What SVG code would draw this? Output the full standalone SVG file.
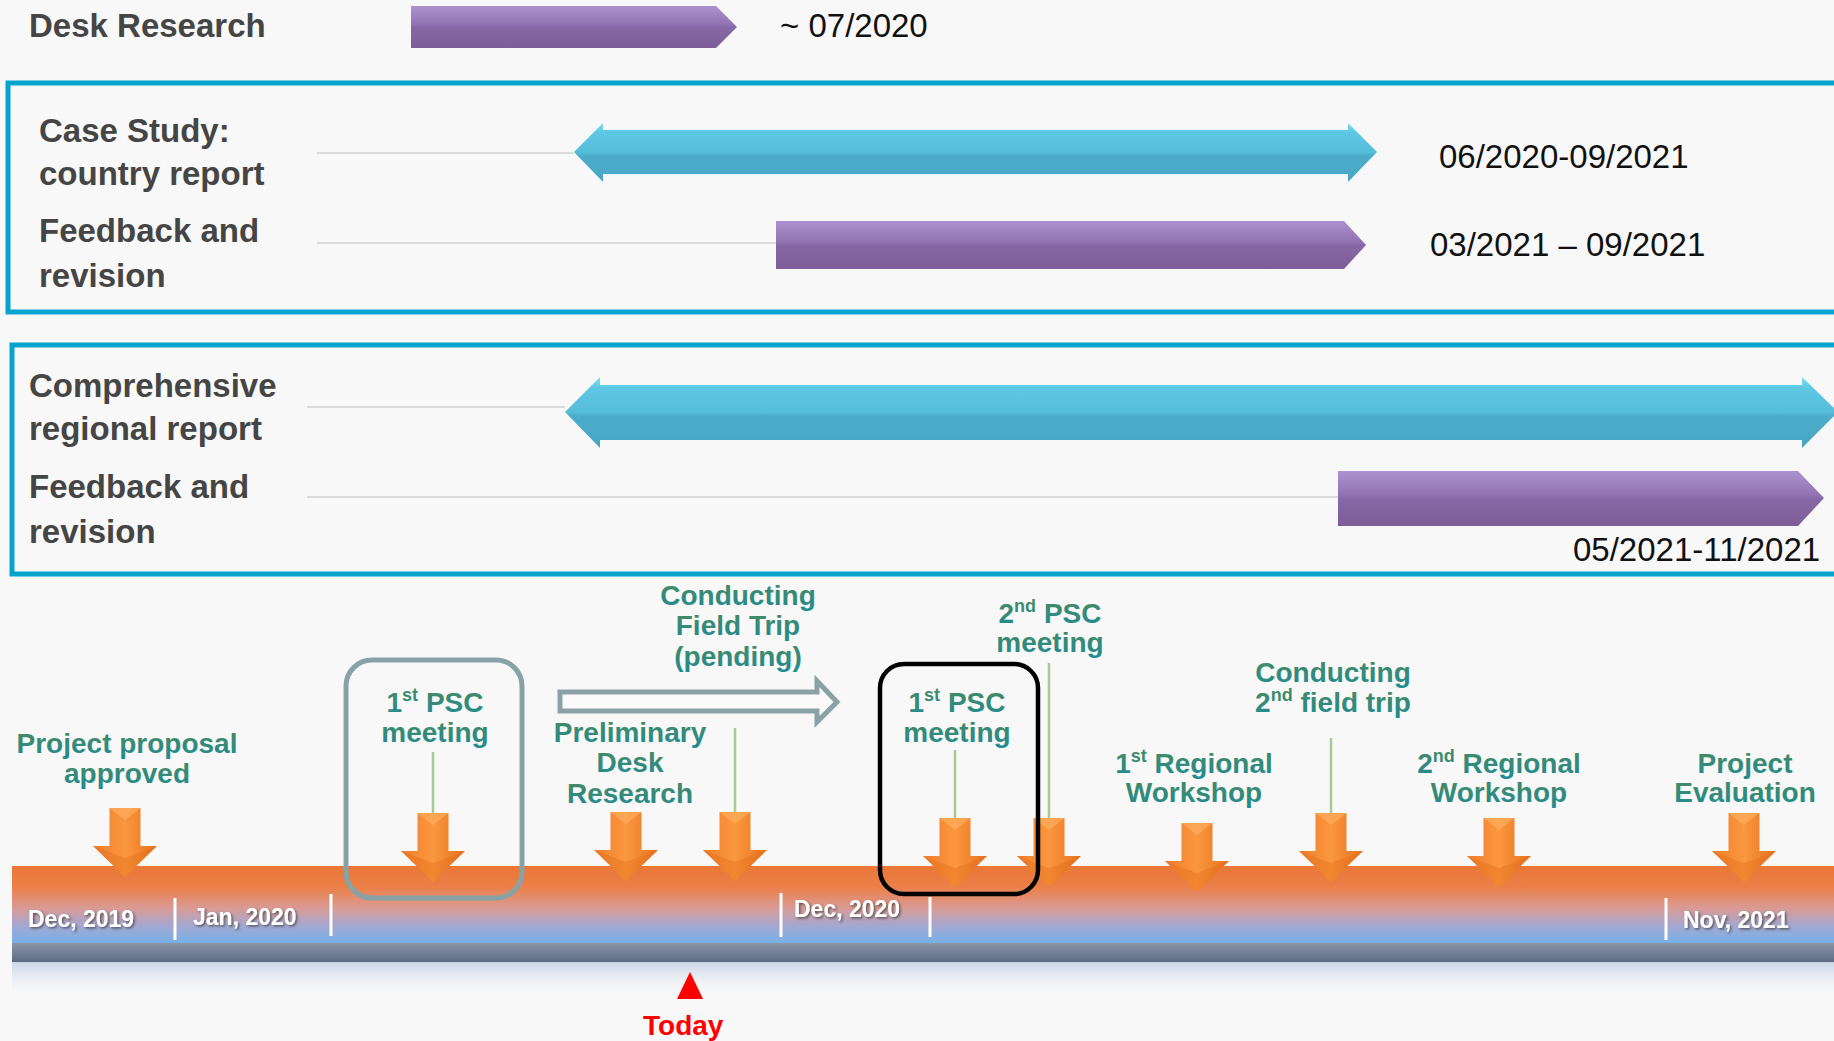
<svg xmlns="http://www.w3.org/2000/svg" width="1834" height="1041" viewBox="0 0 1834 1041">
<defs>
<style>
.lbl{font-family:"Liberation Sans",Arial,sans-serif;font-weight:700;font-size:33px;fill:#454545}
.dt{font-family:"Liberation Sans",Arial,sans-serif;font-size:33px;fill:#111}
.gl{font-family:"Liberation Sans",Arial,sans-serif;font-weight:700;font-size:28px;fill:url(#gtext);text-anchor:middle}
.tk{font-family:"Liberation Sans",Arial,sans-serif;font-weight:700;font-size:23px;fill:#fff;filter:url(#sh)}
.box{fill:none;stroke:#06a3cf;stroke-width:5}
.guide{stroke:#d2d2d2;stroke-width:1.5}
.lead{stroke:#a9c995;stroke-width:2.5}
.tick{stroke:#fff;stroke-width:3}
</style>
<linearGradient id="gtext" x1="0" y1="0" x2="0" y2="1"><stop offset="0" stop-color="#4a8a5c"/><stop offset="1" stop-color="#1f8b95"/></linearGradient>
<linearGradient id="cyan" x1="0" y1="0" x2="0" y2="1"><stop offset="0" stop-color="#7ee0f4"/><stop offset="0.15" stop-color="#5ec8e4"/><stop offset="0.5" stop-color="#56bcd9"/><stop offset="0.55" stop-color="#4cadcb"/><stop offset="1" stop-color="#47a6c3"/></linearGradient>
<linearGradient id="purp" x1="0" y1="0" x2="0" y2="1"><stop offset="0" stop-color="#ab92cf"/><stop offset="0.45" stop-color="#9072b3"/><stop offset="0.5" stop-color="#8668a6"/><stop offset="1" stop-color="#7c5d98"/></linearGradient>
<linearGradient id="org" x1="0" y1="0" x2="1" y2="0"><stop offset="0" stop-color="#ee7d2e"/><stop offset="0.5" stop-color="#fb973e"/><stop offset="1" stop-color="#e5721f"/></linearGradient>
<linearGradient id="bar" x1="0" y1="0" x2="0" y2="1"><stop offset="0" stop-color="#ea7736"/><stop offset="0.28" stop-color="#eb8049"/><stop offset="0.55" stop-color="#d99b96"/><stop offset="0.78" stop-color="#a3a8d2"/><stop offset="1" stop-color="#76b1e6"/></linearGradient>
<linearGradient id="band" x1="0" y1="0" x2="0" y2="1"><stop offset="0" stop-color="#8c95a5"/><stop offset="1" stop-color="#5c6b85"/></linearGradient>
<linearGradient id="refl" x1="0" y1="0" x2="0" y2="1"><stop offset="0" stop-color="#c4d1e6" stop-opacity="0.9"/><stop offset="1" stop-color="#f8f8f8" stop-opacity="0"/></linearGradient>
<filter id="sh" x="-10%" y="-30%" width="130%" height="160%"><feDropShadow dx="1.5" dy="1.5" stdDeviation="1" flood-color="#333" flood-opacity="0.7"/></filter>
<g id="darrow">
<path d="M-15.5,0 H15.5 V38 H32 L0,69 L-32,38 H-15.5 Z" fill="url(#org)"/>
<path d="M-15.5,0 H15.5 L0,12 Z" fill="#fcae5e" opacity="0.7"/>
<path d="M-32,38 L0,50 L32,38 L0,69 Z" fill="#e06a18" opacity="0.35"/>
</g>
</defs>
<rect x="0" y="0" width="1834" height="1041" fill="#f8f8f8"/>

<g id="desk-research">
<text class="lbl" x="29" y="37" font-size="32">Desk Research</text>
<path d="M411,6 H716 L737,27 L716,48 H411 Z" fill="url(#purp)"/>
<text class="dt" x="780" y="37">~ 07/2020</text>
</g>

<g id="case-study-box">
<rect class="box" x="8" y="83" width="1840" height="229"/>
</g>
<g id="case-study">
<text class="lbl" x="39" y="142">Case Study:</text>
<text class="lbl" x="39" y="185">country report</text>
<path d="M574,152 L603,123 V130 H1348 V123 L1377,152 L1348,182 V174 H603 V182 Z" fill="url(#cyan)"/>
<text class="dt" x="1439" y="168">06/2020-09/2021</text>
</g>
<g id="case-feedback">
<text class="lbl" x="39" y="242">Feedback and</text>
<text class="lbl" x="39" y="287">revision</text>
<path d="M776,221 H1344 L1366,245 L1344,269 H776 Z" fill="url(#purp)"/>
<text class="dt" x="1430" y="256" font-size="31.5">03/2021 – 09/2021</text>
</g>

<g id="regional-box">
<rect class="box" x="12" y="345" width="1840" height="229"/>
</g>
<g id="regional-report">
<text class="lbl" x="29" y="397">Comprehensive</text>
<text class="lbl" x="29" y="440">regional report</text>
<path d="M565,412 L600,377 V385 H1802 V377 L1838,412 L1802,448 V440 H600 V448 Z" fill="url(#cyan)"/>
</g>
<g id="regional-feedback">
<text class="lbl" x="29" y="498">Feedback and</text>
<text class="lbl" x="29" y="543">revision</text>
<path d="M1338,471 H1798 L1824,498 L1798,526 H1338 Z" fill="url(#purp)"/>
<text class="dt" x="1573" y="561" font-size="29">05/2021-11/2021</text>
</g>

<g id="timeline">
<rect x="12" y="866" width="1830" height="77" fill="url(#bar)"/>
<rect x="12" y="943" width="1830" height="19" fill="url(#band)"/>
<rect x="12" y="962" width="1830" height="36" fill="url(#refl)"/>
<line class="tick" x1="175" y1="898" x2="175" y2="940"/>
<line class="tick" x1="331" y1="894" x2="331" y2="936"/>
<line class="tick" x1="781" y1="893" x2="781" y2="937"/>
<line class="tick" x1="930" y1="897" x2="930" y2="937"/>
<line class="tick" x1="1666" y1="898" x2="1666" y2="940"/>
<text class="tk" x="28" y="927">Dec, 2019</text>
<text class="tk" x="193" y="925">Jan, 2020</text>
<text class="tk" x="794" y="917">Dec, 2020</text>
<text class="tk" x="1683" y="928">Nov, 2021</text>
</g>

<g id="connectors">
<line class="guide" x1="317" y1="153" x2="574" y2="153"/>
<line class="guide" x1="317" y1="243" x2="776" y2="243"/>
<line class="guide" x1="307" y1="407" x2="565" y2="407"/>
<line class="guide" x1="307" y1="497" x2="1338" y2="497"/>
<line class="lead" x1="433" y1="752" x2="433" y2="814"/>
<line class="lead" x1="735" y1="728" x2="735" y2="813"/>
<line class="lead" x1="955" y1="750" x2="955" y2="819"/>
<line class="lead" x1="1049" y1="663" x2="1049" y2="819"/>
<line class="lead" x1="1331" y1="738" x2="1331" y2="814"/>
<path d="M560,692 H817 V681 L837,702 L817,722 V711 H560 Z" fill="#fafafa" stroke="#8aa2a6" stroke-width="5"/>
</g>

<g id="m-project-proposal">
<use href="#darrow" transform="translate(125,808)"/>
<text class="gl" x="127" y="753">Project proposal</text>
<text class="gl" x="127" y="783">approved</text>
</g>
<g id="m-psc1-a">
<use href="#darrow" transform="translate(433,813)"/>
<text class="gl" x="435" y="712">1<tspan font-size="18" dy="-11">st</tspan><tspan dy="11"> PSC</tspan></text>
<text class="gl" x="435" y="742">meeting</text>
<rect x="346" y="660" width="176" height="238" rx="26" fill="none" stroke="#87a3a7" stroke-width="5"/>
</g>
<g id="m-desk-research">
<use href="#darrow" transform="translate(626,812)"/>
<text class="gl" x="630" y="742">Preliminary</text>
<text class="gl" x="630" y="772">Desk</text>
<text class="gl" x="630" y="803">Research</text>
</g>
<g id="m-field-trip">
<use href="#darrow" transform="translate(735,812)"/>
<text class="gl" x="738" y="605">Conducting</text>
<text class="gl" x="738" y="635">Field Trip</text>
<text class="gl" x="738" y="666">(pending)</text>
</g>
<g id="m-psc1-b">
<use href="#darrow" transform="translate(955,818)"/>
<text class="gl" x="957" y="712">1<tspan font-size="18" dy="-11">st</tspan><tspan dy="11"> PSC</tspan></text>
<text class="gl" x="957" y="742">meeting</text>
</g>
<g id="m-psc2">
<use href="#darrow" transform="translate(1049,818)"/>
<text class="gl" x="1050" y="623">2<tspan font-size="18" dy="-11">nd</tspan><tspan dy="11"> PSC</tspan></text>
<text class="gl" x="1050" y="652">meeting</text>
</g>
<g id="m-psc1-b-frame">
<rect x="880" y="664" width="158" height="230" rx="24" fill="none" stroke="#000" stroke-width="4.5"/>
</g>
<g id="m-workshop1">
<use href="#darrow" transform="translate(1197,823)"/>
<text class="gl" x="1194" y="773">1<tspan font-size="18" dy="-11">st</tspan><tspan dy="11"> Regional</tspan></text>
<text class="gl" x="1194" y="802">Workshop</text>
</g>
<g id="m-field-trip2">
<use href="#darrow" transform="translate(1331,813)"/>
<text class="gl" x="1333" y="682">Conducting</text>
<text class="gl" x="1333" y="712">2<tspan font-size="18" dy="-11">nd</tspan><tspan dy="11"> field trip</tspan></text>
</g>
<g id="m-workshop2">
<use href="#darrow" transform="translate(1499,818)"/>
<text class="gl" x="1499" y="773">2<tspan font-size="18" dy="-11">nd</tspan><tspan dy="11"> Regional</tspan></text>
<text class="gl" x="1499" y="802">Workshop</text>
</g>
<g id="m-evaluation">
<use href="#darrow" transform="translate(1744,813)"/>
<text class="gl" x="1745" y="773">Project</text>
<text class="gl" x="1745" y="802">Evaluation</text>
</g>

<g id="today">
<path d="M677,999 H703 L690,972 Z" fill="#ff0000"/>
<text x="643" y="1035" font-family="Liberation Sans, Arial, sans-serif" font-weight="700" font-size="28" fill="#ff0000">Today</text>
</g>
</svg>
